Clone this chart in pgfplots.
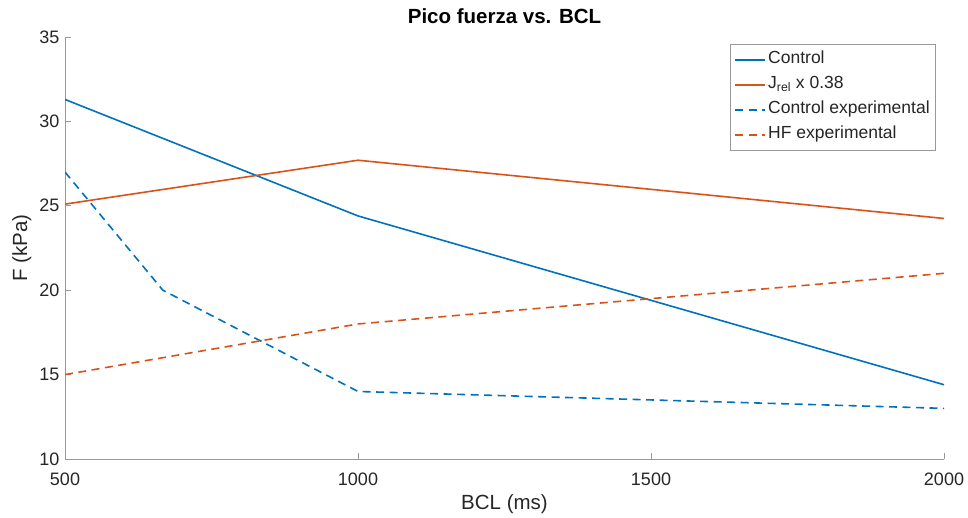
\documentclass[border=0pt]{standalone}
\usepackage{fontspec}
\setmainfont{Liberation Sans}
\usepackage{pgfplots}
\pgfplotsset{compat=1.18}
\definecolor{mblue}{rgb}{0,0.447,0.741}
\definecolor{morange}{rgb}{0.85,0.325,0.098}
\definecolor{axgray}{gray}{0.6}
\definecolor{txtgray}{gray}{0.15}
\begin{document}
\begin{tikzpicture}
% fixed page frame around the plot area
\path[use as bounding box] (-65pt,-58pt) rectangle (903pt,459pt);
\begin{axis}[
  scale only axis, width=879pt, height=422pt,
  at={(0pt,0pt)}, anchor=south west,
  xmin=500, xmax=2000, ymin=10, ymax=35,
  xtick={500,1000,1500,2000}, ytick={10,15,...,35},
  axis x line*=bottom, axis y line*=left,
  axis line style={axgray, line width=0.8pt, -},
  tick style={axgray, line width=0.8pt},
  major tick length=6pt, tick align=inside,
  ticklabel style={font=\fontsize{18}{21}\selectfont, text=txtgray},
  xticklabel style={yshift=-10pt},
  yticklabel style={xshift=-2pt},
  /pgf/number format/assume math mode=true,
  /pgf/number format/set thousands separator={},
  xlabel={BCL (ms)}, ylabel={F (kPa)},
  label style={font=\fontsize{20.5}{24}\selectfont, text=txtgray},
  xlabel style={at={(axis description cs:0.5,-0.108)}, anchor=center},
  ylabel style={at={(axis description cs:-0.049,0.5)}, anchor=center},
  title={Pico fuerza vs. BCL},
  title style={font=\fontsize{20.5}{24}\selectfont\bfseries, at={(axis description cs:0.5,1.036)}, anchor=center},
  legend style={at={(axis description cs:0.991,0.983)}, anchor=north east,
    draw=axgray, line width=0.8pt, font=\fontsize{17.5}{21}\selectfont, text=txtgray,
    row sep=0pt, inner xsep=4pt, inner ysep=3pt,
    nodes={inner xsep=2pt, inner ysep=0pt, text height=16pt, text depth=9pt}},
  legend cell align=left,
  legend image code/.code={\draw[#1] (0pt,0pt) -- (30pt,0pt);},
  every axis plot/.append style={line width=1.6pt},
]
\addplot[mblue] coordinates {(500,31.3) (1000,24.4) (2000,14.4)};
\addlegendentry{Control}
\addplot[morange] coordinates {(500,25.1) (1000,27.7) (2000,24.25)};
\addlegendentry{J\textsubscript{rel} x 0.38}
\addplot[mblue, dash pattern=on 8pt off 5.5pt] coordinates {(500,27) (667,20) (1000,14) (2000,13)};
\addlegendentry{Control experimental}
\addplot[morange, dash pattern=on 8pt off 5.5pt] coordinates {(500,15) (1000,18) (2000,21)};
\addlegendentry{HF experimental}
\end{axis}
\end{tikzpicture}
\end{document}
